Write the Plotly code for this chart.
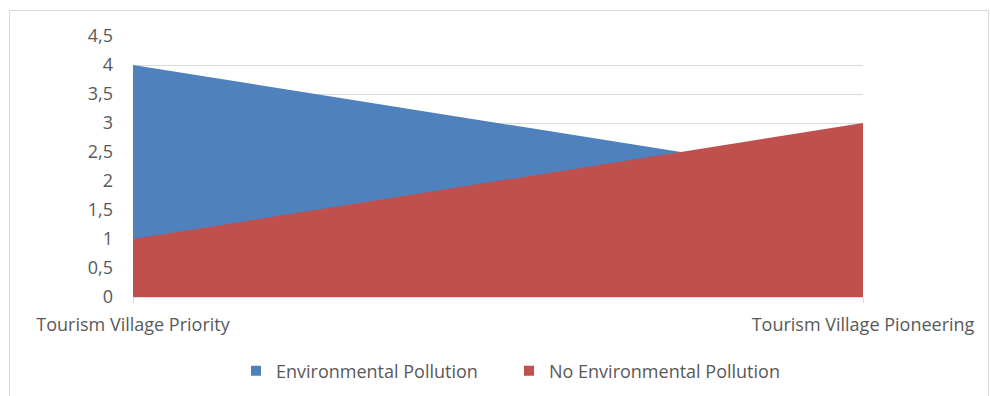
import plotly.graph_objects as go

# Data
categories = ["Tourism Village Priority", "Tourism Village Pioneering"]
series_names = ["Environmental Pollution", "No Environmental Pollution"]
env_pollution = [4, 2]
no_env_pollution = [1, 3]
y_ticks = [0, 0.5, 1, 1.5, 2, 2.5, 3, 3.5, 4, 4.5]
colors = ["#4F81BD", "#C0504D"]

positions = list(range(len(categories)))

FONT = "Open Sans"
TEXT_COLOR = "#595959"
GRID = "#d9d9d9"
FS = 18

fig = go.Figure()
# Overlapping (non-stacked) area series; the second one is painted on top
for name, vals, col in zip(series_names, [env_pollution, no_env_pollution], colors):
    fig.add_trace(go.Scatter(
        x=positions, y=vals, name=name, legendgroup=name, showlegend=False,
        mode="lines", line=dict(width=0, color=col),
        fill="tozeroy", fillcolor=col, hoverinfo="x+y+name",
    ))
# Square legend keys
for name, col in zip(series_names, colors):
    fig.add_trace(go.Scatter(
        x=[None], y=[None], name=name, legendgroup=name, mode="markers",
        marker=dict(symbol="square", size=10, color=col),
    ))

W, H = 990, 396
L, R, T, B = 133, 127, 36, 99
pw, ph = W - L - R, H - T - B

def px(x):
    return (x - L) / pw

def py(y):
    return (H - B - y) / ph

fig.update_layout(
    width=W, height=H,
    margin=dict(l=L, r=R, t=T, b=B, autoexpand=False),
    paper_bgcolor="white", plot_bgcolor="white",
    separators=", ",
    font=dict(family=FONT, size=FS, color=TEXT_COLOR),
    showlegend=True,
    legend=dict(
        orientation="h", xref="container", yref="container",
        x=236 / W, xanchor="left",
        y=(H - 371) / H, yanchor="middle",
        font=dict(family=FONT, size=FS, color=TEXT_COLOR),
        itemwidth=30, tracegroupgap=0,
        entrywidth=228, entrywidthmode="pixels",
        bgcolor="rgba(0,0,0,0)",
    ),
    xaxis=dict(
        range=[0, 1], tickmode="array", tickvals=positions, ticktext=categories,
        showgrid=False, zeroline=False, showline=True, linecolor=GRID, linewidth=1,
        ticks="outside", ticklen=5, tickcolor=GRID, ticklabelstandoff=6,
        tickfont=dict(family=FONT, size=FS, color=TEXT_COLOR),
        fixedrange=True,
    ),
    yaxis=dict(
        range=[0, 4.5], tickmode="array", tickvals=y_ticks,
        showgrid=True, gridcolor=GRID, gridwidth=1, zeroline=False,
        showline=False, ticks="", ticklabelstandoff=19,
        tickfont=dict(family=FONT, size=FS, color=TEXT_COLOR),
        fixedrange=True,
    ),
    shapes=[dict(
        type="rect", xref="paper", yref="paper",
        x0=px(9.5), x1=px(988.5), y0=py(10.5), y1=py(420),
        line=dict(color=GRID, width=1), fillcolor="rgba(0,0,0,0)", layer="below",
    )],
)

fig.write_html("out.html")
